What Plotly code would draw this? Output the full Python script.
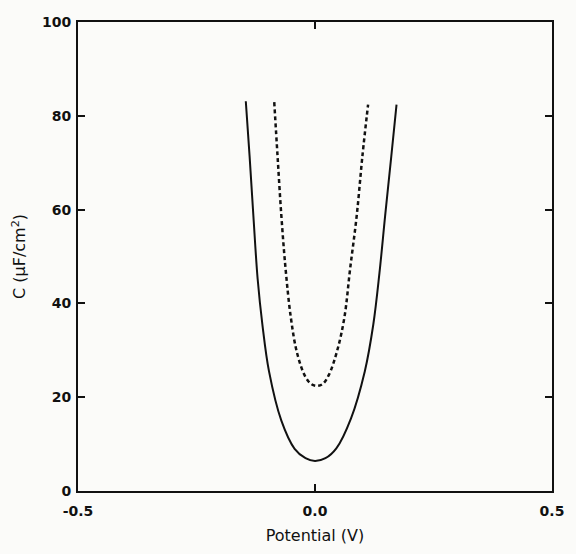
import plotly.graph_objects as go

# Solid curve
solid_x = [-0.146, -0.138, -0.130, -0.121, -0.111, -0.097, -0.071, -0.043, -0.020, 0.000,
           0.022, 0.045, 0.076, 0.105, 0.123, 0.136, 0.148, 0.161, 0.172]
solid_c = [83.1, 71.4, 58.7, 45.2, 35.5, 25.5, 15.0, 9.0, 7.0, 6.4,
           7.0, 9.1, 15.5, 25.5, 35.5, 46.5, 58.7, 71.4, 82.4]

# Dashed curve
dash_x = [-0.086, -0.079, -0.071, -0.062, -0.051, -0.038, -0.021, -0.008, 0.004,
          0.016, 0.029, 0.047, 0.062, 0.074, 0.088, 0.100, 0.112]
dash_c = [82.9, 71.4, 58.7, 47.3, 37.0, 29.5, 24.5, 22.8, 22.4,
          22.8, 24.7, 30.0, 37.0, 47.3, 58.7, 71.4, 82.4]

x_ticks = [-0.5, 0.0, 0.5]
x_tick_text = ["-0.5", "0.0", "0.5"]
y_ticks = [0, 20, 40, 60, 80, 100]

fig = go.Figure()
fig.add_trace(go.Scatter(x=solid_x, y=solid_c, mode="lines",
                         line=dict(color="#111111", width=2, shape="spline", smoothing=1.0),
                         showlegend=False))
fig.add_trace(go.Scatter(x=dash_x, y=dash_c, mode="lines",
                         line=dict(color="#111111", width=2.5, dash="4px,3px", shape="spline", smoothing=1.0),
                         showlegend=False))

tickfont = dict(family="DejaVu Sans", size=14, color="#111111", weight="bold")
fig.update_layout(
    width=576, height=554,
    margin=dict(l=78, r=14, t=22, b=57),
    paper_bgcolor="#fbfbf9", plot_bgcolor="#fbfbf9",
    font=dict(family="DejaVu Sans", size=15, color="#111111"),
    xaxis=dict(range=[-0.5, 0.5], tickvals=x_ticks, ticktext=x_tick_text,
               ticks="inside", ticklen=7, tickwidth=2, tickcolor="#111111",
               ticklabelstandoff=6, tickfont=tickfont,
               showline=True, linecolor="#111111", linewidth=2, mirror="ticks",
               showgrid=False, zeroline=False,
               title=dict(text="Potential (V)", standoff=12, font=dict(size=16))),
    yaxis=dict(range=[0, 100], tickvals=y_ticks,
               ticks="inside", ticklen=7, tickwidth=2, tickcolor="#111111",
               tickfont=tickfont, ticklabelstandoff=2,
               showline=True, linecolor="#111111", linewidth=2, mirror="ticks",
               showgrid=False, zeroline=False,
               title=dict(text="C (μF/cm<sup>2</sup>)", standoff=12, font=dict(size=16))),
)
fig.write_html("out.html")
